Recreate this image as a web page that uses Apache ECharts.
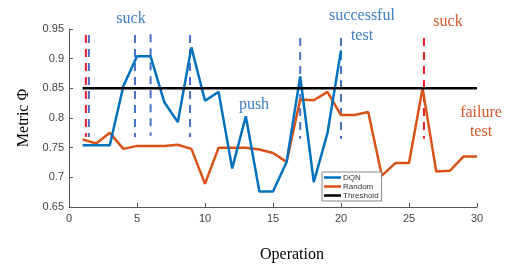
<!DOCTYPE html>
<html><head><meta charset="utf-8">
<script src="https://cdn.jsdelivr.net/npm/echarts@6/dist/echarts.min.js"></script>
<style>html,body{margin:0;padding:0;background:#fff}#c{width:527px;height:272px}</style>
</head><body><div id="c"></div>
<script>
var operations = [1,2,3,4,5,6,7,8,9,10,11,12,13,14,15,16,17,18,19,20,21,22,23,24,25,26,27,28,29,30];
var dqnValues = [0.754,0.754,0.754,0.854,0.904,0.904,0.827,0.793,0.919,0.829,0.844,0.715,0.803,0.676,0.676,0.726,0.870,0.692,0.774,0.914];
var randomValues = [0.764,0.757,0.775,0.748,0.753,0.753,0.753,0.755,0.748,0.689,0.750,0.750,0.750,0.747,0.741,0.726,0.831,0.830,0.844,0.805,0.805,0.810,0.703,0.724,0.724,0.850,0.710,0.711,0.735,0.735];
var thresholdX = [1, 30];
var thresholdValue = 0.85;
var blueMarkers = [1.46, 4.85, 6.0, 8.9, 17, 20];
var redMarkers = [1.24, 26.1];
var markerTop = [0.940, 0.940, 0.941, 0.940, 0.935, 0.935];
var markerBottom = [0.768, 0.768, 0.770, 0.768, 0.765, 0.765];
var redTop = [0.940, 0.935];
var redBottom = [0.768, 0.765];
var xTicks = [0, 5, 10, 15, 20, 25, 30];
var yTicks = [0.65, 0.7, 0.75, 0.8, 0.85, 0.9, 0.95];

var BLUE = '#0072BD', ORANGE = '#D95319';
var serif = '"Liberation Serif", "DejaVu Serif", serif';

var series = [];
blueMarkers.forEach(function (x, i) {
  series.push({type:'line', name:'bm'+i, data:[[x, markerTop[i]],[x, markerBottom[i]]], symbol:'none', silent:true,
    lineStyle:{color:'#4472C4', width:2, type:[8,6]}, z:1});
});
redMarkers.forEach(function (x, i) {
  series.push({type:'line', name:'rm'+i, data:[[x, redTop[i]],[x, redBottom[i]]], symbol:'none', silent:true,
    lineStyle:{color:'#EE1C25', width:2, type:[8,6]}, z:1});
});
series.push({type:'line', name:'DQN', data: dqnValues.map(function(v,i){return [operations[i], v];}),
  symbol:'none', lineStyle:{color:BLUE, width:2.5}, itemStyle:{color:BLUE}, z:3});
series.push({type:'line', name:'Random', data: randomValues.map(function(v,i){return [operations[i], v];}),
  symbol:'none', lineStyle:{color:ORANGE, width:2.5}, itemStyle:{color:ORANGE}, z:2});
series.push({type:'line', name:'Threshold', data: thresholdX.map(function(x){return [x, thresholdValue];}),
  symbol:'none', lineStyle:{color:'#000', width:2.5}, itemStyle:{color:'#000'}, z:4});

function txt(t, x, y, color) {
  return {type:'text', x:x, y:y, style:{text:t, textAlign:'center', textVerticalAlign:'middle', font:'16px ' + serif, fill:color}};
}
var TB = '#3F7FC4', TO = '#D4582A';

var chart = echarts.init(document.getElementById('c'), null, {renderer:'canvas'});
chart.setOption({
  animation:false,
  backgroundColor:'#fff',
  grid:{left:69, top:29, right:50, bottom:65, containLabel:false},
  xAxis:{type:'value', min:0, max:30, interval:5,
    name:'Operation', nameLocation:'middle', nameGap:40,
    nameTextStyle:{fontFamily:serif, fontSize:16, color:'#000', padding:[0,0,0,38]},
    axisLine:{show:true, lineStyle:{color:'#555', width:1}},
    axisTick:{show:true, inside:true, length:4, lineStyle:{color:'#555'}},
    axisLabel:{color:'#444', fontSize:11, fontFamily:'"Liberation Sans", Arial, sans-serif', margin:6},
    splitLine:{show:false}},
  yAxis:{type:'value', min:0.65, max:0.95, interval:0.05,
    name:'Metric Φ', nameLocation:'middle', nameGap:37, nameRotate:90,
    nameTextStyle:{fontFamily:serif, fontSize:16, color:'#000'},
    axisLine:{show:true, lineStyle:{color:'#555', width:1}},
    axisTick:{show:true, inside:true, length:4, lineStyle:{color:'#555'}},
    axisLabel:{color:'#444', fontSize:11, fontFamily:'"Liberation Sans", Arial, sans-serif', margin:5,
      formatter:function(v){return String(parseFloat(v.toFixed(2)));}},
    splitLine:{show:false}},
  legend:{data:['DQN','Random','Threshold'], orient:'vertical', left:322, top:172,
    icon:'rect', itemWidth:17, itemHeight:2.5, itemGap:0,
    padding:[1,3,1,2], borderColor:'#888', borderWidth:1, backgroundColor:'#fff',
    textStyle:{fontSize:8, color:'#333', fontFamily:'"Liberation Sans", Arial, sans-serif', lineHeight:9, padding:[0,0,0,-3]}},
  graphic:[
    txt('suck', 131, 19, TB),
    txt('push', 254, 105, TB),
    txt('successful', 362, 16, TB),
    txt('test', 362, 36, TB),
    txt('suck', 448, 22, TO),
    txt('failure', 481, 113, TO),
    txt('test', 481, 132, TO)
  ],
  series: series
});
</script></body></html>
